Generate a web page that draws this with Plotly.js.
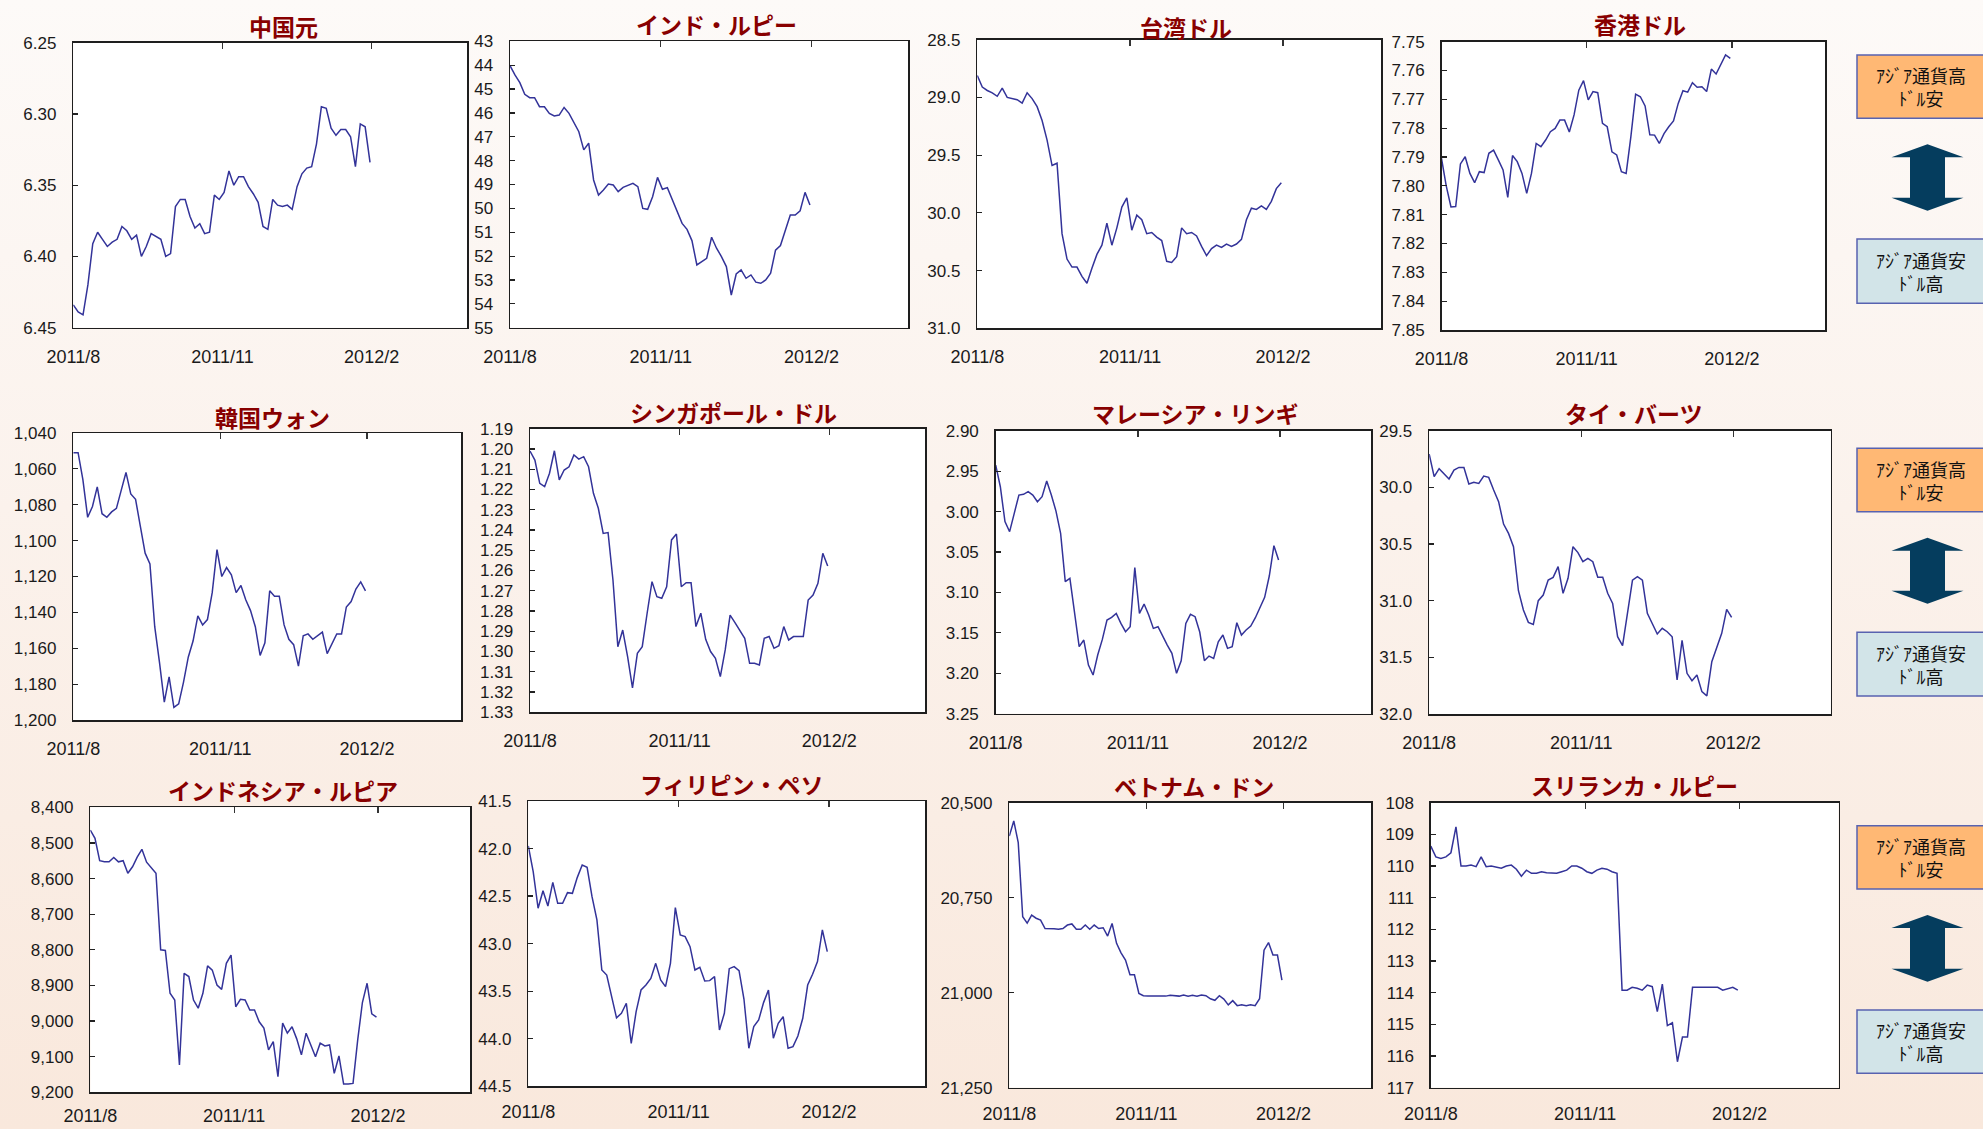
<!DOCTYPE html>
<html><head><meta charset="utf-8">
<script src="https://cdn.plot.ly/plotly-3.0.1.min.js"></script>
<style>
html,body{margin:0;padding:0;}
body{width:1983px;height:1129px;overflow:hidden;background:linear-gradient(180deg,#fdfaf8 0%,#fbf2ec 45%,#f9e8dc 100%);}
#chart{width:1983px;height:1129px;}
</style></head><body><div id="chart"></div>
<script>
// ---- data ----
const dates = ['2011-08-01','2011-08-04','2011-08-07','2011-08-10','2011-08-13','2011-08-16','2011-08-19','2011-08-22','2011-08-25','2011-08-28','2011-08-31',
'2011-09-03','2011-09-06','2011-09-09','2011-09-12','2011-09-15','2011-09-18','2011-09-21','2011-09-24','2011-09-27','2011-09-30',
'2011-10-03','2011-10-06','2011-10-09','2011-10-12','2011-10-15','2011-10-18','2011-10-21','2011-10-24','2011-10-27','2011-10-30',
'2011-11-02','2011-11-05','2011-11-08','2011-11-11','2011-11-14','2011-11-17','2011-11-20','2011-11-23','2011-11-26','2011-11-29',
'2011-12-02','2011-12-05','2011-12-08','2011-12-11','2011-12-14','2011-12-17','2011-12-20','2011-12-23','2011-12-26','2011-12-29',
'2012-01-01','2012-01-04','2012-01-07','2012-01-10','2012-01-13','2012-01-16','2012-01-19','2012-01-22','2012-01-25','2012-01-28','2012-01-31'];

const titles = ['中国元','インド・ルピー','台湾ドル','香港ドル','韓国ウォン','シンガポール・ドル','マレーシア・リンギ','タイ・バーツ','インドネシア・ルピア','フィリピン・ペソ','ベトナム・ドン','スリランカ・ルピー'];

const cny = [6.434,6.439,6.441,6.42,6.391,6.383,6.388,6.393,6.390,6.388,6.379,6.382,6.388,6.385,6.400,6.393,6.384,6.386,6.388,6.400,6.398,6.365,6.360,6.360,6.372,6.380,6.377,6.384,6.383,6.357,6.360,6.355,6.340,6.350,6.344,6.344,6.351,6.356,6.362,6.379,6.381,6.360,6.364,6.365,6.364,6.367,6.351,6.342,6.338,6.337,6.321,6.295,6.296,6.310,6.315,6.311,6.311,6.316,6.337,6.307,6.309,6.334];
const inr = [44.02,44.41,44.73,45.22,45.36,45.36,45.74,45.74,46.02,46.13,46.09,45.77,46.02,46.44,46.79,47.55,47.27,48.81,49.44,49.23,48.98,49.02,49.30,49.12,49.02,48.95,49.09,50.00,50.04,49.51,48.70,49.20,49.13,49.65,50.11,50.63,50.88,51.35,52.37,52.23,52.09,51.21,51.67,52.02,52.44,53.63,52.75,52.58,52.93,52.79,53.09,53.14,53.00,52.72,51.75,51.56,50.91,50.28,50.28,50.10,49.33,49.86];
const twd = [28.81,28.91,28.94,28.96,28.99,28.92,29.00,29.01,29.02,29.05,28.96,29.01,29.08,29.20,29.37,29.59,29.57,30.18,30.40,30.47,30.47,30.55,30.61,30.48,30.36,30.28,30.09,30.28,30.13,29.95,29.87,30.15,30.02,30.06,30.18,30.17,30.21,30.24,30.42,30.43,30.38,30.13,30.18,30.17,30.20,30.29,30.37,30.31,30.28,30.30,30.27,30.29,30.27,30.23,30.06,29.96,29.97,29.94,29.97,29.90,29.79,29.74];
const hkd = [7.7905,7.8000,7.8073,7.8072,7.7924,7.7899,7.7957,7.7989,7.7951,7.7954,7.7887,7.7876,7.7910,7.7945,7.8040,7.7895,7.7916,7.7957,7.8026,7.7957,7.7853,7.7864,7.7841,7.7812,7.7801,7.7772,7.7772,7.7813,7.7754,7.7668,7.7635,7.7702,7.7673,7.7677,7.7783,7.7795,7.7882,7.7893,7.7951,7.7957,7.7829,7.7682,7.7691,7.7723,7.7823,7.7824,7.7853,7.7819,7.7795,7.7775,7.7714,7.7670,7.7675,7.7642,7.7658,7.7656,7.7673,7.7595,7.7612,7.7581,7.7546,7.7558];
const krw = [1051,1051,1066,1087,1081,1070,1085,1087,1084,1082,1072,1062,1074,1077,1092,1107,1113,1148,1168,1190,1176,1193,1191,1179,1165,1156,1142,1147,1144,1129,1105,1120,1115,1119,1129,1125,1133,1139,1148,1164,1157,1128,1131,1131,1147,1155,1158,1170,1153,1152,1155,1153,1151,1163,1157,1152,1152,1137,1134,1127,1123,1128];
const sgd = [1.2010,1.2055,1.2170,1.2186,1.2120,1.2009,1.2153,1.2104,1.2088,1.2030,1.2050,1.2038,1.2088,1.2219,1.2293,1.2417,1.2413,1.2647,1.2976,1.2894,1.3025,1.3180,1.3009,1.2976,1.2811,1.2655,1.2729,1.2737,1.2680,1.2449,1.2420,1.2680,1.2660,1.2660,1.2877,1.2811,1.2940,1.3000,1.3033,1.3124,1.2992,1.2820,1.2857,1.2894,1.2935,1.3058,1.3058,1.3066,1.2935,1.2926,1.2984,1.2971,1.2877,1.2943,1.2926,1.2926,1.2926,1.2746,1.2721,1.2663,1.2515,1.2578];
const myr = [2.9425,2.9693,3.0125,3.0249,3.0022,2.9796,2.9787,2.9754,2.9796,2.9878,2.9816,2.9622,2.9796,2.9994,3.0270,3.0867,3.0826,3.1226,3.1671,3.1589,3.1898,3.2022,3.1774,3.1581,3.1342,3.1309,3.1259,3.1383,3.1486,3.1424,3.0694,3.1259,3.1144,3.1280,3.1445,3.1424,3.1548,3.1651,3.1754,3.2001,3.1845,3.1383,3.1271,3.1300,3.1490,3.1845,3.1787,3.1816,3.1610,3.1527,3.1692,3.1671,3.1375,3.1527,3.1465,3.1416,3.1313,3.1177,3.1061,3.0797,3.0422,3.0600];
const thb = [29.706,29.906,29.835,29.876,29.926,29.847,29.824,29.824,29.971,29.956,29.965,29.900,29.912,30.024,30.126,30.324,30.406,30.524,30.912,31.082,31.191,31.209,31.000,30.950,30.818,30.794,30.700,30.935,30.803,30.524,30.576,30.656,30.626,30.656,30.794,30.794,30.935,31.024,31.318,31.397,31.112,30.818,30.788,30.818,31.112,31.200,31.294,31.244,31.274,31.318,31.700,31.350,31.641,31.706,31.656,31.803,31.840,31.538,31.406,31.288,31.076,31.147];
const idr = [8464,8487,8550,8553,8553,8541,8553,8550,8585,8567,8540,8518,8554,8571,8585,8800,8802,8922,8941,9123,8866,8875,8941,8964,8922,8845,8857,8899,8911,8838,8815,8960,8939,8941,8969,8969,9002,9020,9081,9058,9156,9006,9034,9016,9050,9095,9034,9067,9100,9062,9070,9067,9147,9098,9177,9177,9175,9053,8948,8894,8980,8989];
const php = [41.973,42.243,42.628,42.443,42.604,42.355,42.576,42.576,42.464,42.471,42.303,42.173,42.197,42.506,42.751,43.277,43.330,43.540,43.780,43.733,43.627,44.050,43.715,43.487,43.435,43.365,43.207,43.382,43.452,43.207,42.621,42.909,42.926,43.032,43.277,43.249,43.393,43.389,43.347,43.908,43.732,43.263,43.242,43.284,43.582,44.100,43.873,43.803,43.620,43.487,43.995,43.838,43.768,44.100,44.083,43.971,43.785,43.435,43.322,43.189,42.856,43.084];
const vnd = [20588,20548,20605,20800,20817,20796,20804,20809,20831,20831,20832,20833,20831,20822,20819,20833,20833,20822,20833,20822,20831,20829,20851,20818,20870,20895,20914,20953,20953,21002,21008,21009,21009,21009,21009,21009,21007,21009,21009,21006,21009,21007,21009,21006,21008,21016,21020,21008,21017,21032,21021,21034,21032,21034,21032,21034,21016,20888,20868,20901,20901,20967];
const lkr = [109.37,109.71,109.76,109.71,109.58,108.76,110.00,110.00,109.97,110.02,109.71,110.02,110.00,110.04,110.07,110.00,109.97,110.10,110.32,110.13,110.23,110.23,110.18,110.21,110.23,110.23,110.18,110.13,110.00,110.00,110.07,110.18,110.23,110.13,110.07,110.10,110.18,110.23,113.92,113.92,113.83,113.86,113.92,113.76,113.81,114.60,113.73,115.04,114.95,116.18,115.40,115.40,113.83,113.83,113.83,113.83,113.83,113.83,113.92,113.87,113.83,113.92];

const series = [cny,inr,twd,hkd,krw,sgd,myr,thb,idr,php,vnd,lkr];

// axis scales / tick labels
const yTop    = [6.25, 43, 28.5, 7.75, 1040, 1.19, 2.90, 29.5, 8400, 41.5, 20500, 108];
const yBottom = [6.45, 55, 31.0, 7.85, 1200, 1.33, 3.25, 32.0, 9200, 44.5, 21250, 117];
const yStep   = [0.05, 1, 0.5, 0.01, 20, 0.01, 0.05, 0.5, 100, 0.5, 250, 1];
const yFormat = ['.2f','d','.1f','.2f',',d','.2f','.2f','.1f',',d','.1f',',d','d'];
const xTickVals = ['2011-08-01','2011-11-01','2012-02-01'];
const xTickText = ['2011/8','2011/11','2012/2'];
const xRange = ['2011-08-01','2012-03-31'];
const boxHighText = 'ｱｼﾞｱ通貨高<br>ﾄﾞﾙ安';
const boxLowText  = 'ｱｼﾞｱ通貨安<br>ﾄﾞﾙ高';

// ---- layout geometry (pixels) ----
const W = 1983, H = 1129;
const panels = [
 [73.3,467.3,42.7,327.7],[510,908.3,41.3,327.7],[977.3,1381,39.7,328.3],[1441.5,1825,41.7,330],
 [73.3,461.3,433,720],[530,925.3,428.7,712.3],[995.7,1371.3,430.7,713.7],[1429.2,1830.8,430.7,714],
 [90.3,470.3,807.3,1092.3],[528.3,925.3,801,1086.3],[1009.3,1371.3,802.7,1087.7],[1430.8,1838.5,802.7,1087.7]];
const labelStandoff = [12,12,12,12,12,12,12,12,7,9,9,9];
const titlePos = [[283,26],[716.7,24],[1185.7,27.5],[1640.2,24],[272,416.5],[733.3,411.7],[1195.5,412.5],[1634.4,413.3],[283.3,790],[732,784],[1193.7,786],[1634.2,785]];
const sideRows = [
 {o:[55,118.3], a:[144.3,210.7], b:[239,303.3]},
 {o:[448.3,511.7], a:[537.7,603.7], b:[632.3,696]},
 {o:[825.7,889], a:[915,981.7], b:[1010,1073.3]}];
const px = v => v / W, py = v => 1 - v / H;

const tickFont = {family:'Liberation Sans, Arial, sans-serif', size:17, color:'#1a1a1a'};
const xTickFont = {family:'Liberation Sans, Arial, sans-serif', size:18, color:'#1a1a1a'};

const traces = [];
const layout = {
  width: W, height: H, autosize:false,
  margin:{l:0,r:0,t:0,b:0,pad:0},
  paper_bgcolor:'rgba(0,0,0,0)', plot_bgcolor:'#ffffff',
  showlegend:false, hovermode:false,
  annotations:[], shapes:[]
};

series.forEach((vals, i) => {
  const n = i + 1;
  const xs = n === 1 ? 'x' : 'x' + n, ys = n === 1 ? 'y' : 'y' + n;
  const xk = n === 1 ? 'xaxis' : 'xaxis' + n, yk = n === 1 ? 'yaxis' : 'yaxis' + n;
  const topN = 12 + n, xsTop = 'x' + topN, xkTop = 'xaxis' + topN;
  const [L, R, T, B] = panels[i];

  traces.push({x: dates, y: vals, xaxis: xs, yaxis: ys, type:'scatter', mode:'lines',
    line:{color:'#333399', width:1.5}, hoverinfo:'skip'});
  traces.push({x: [], y: [], xaxis: xsTop, yaxis: ys, type:'scatter', mode:'lines', hoverinfo:'skip'});

  const tv = [];
  const steps = Math.round((yBottom[i] - yTop[i]) / yStep[i]);
  for (let k = 0; k <= steps; k++) tv.push(+(yTop[i] + k * yStep[i]).toFixed(6));

  layout[xk] = {domain:[px(L), px(R)], anchor: ys, type:'date', range: xRange,
    tickmode:'array', tickvals: xTickVals, ticktext: xTickText, ticks:'',
    showline:true, mirror:true, linecolor:'#1e1e1e', linewidth:1.5,
    showgrid:false, zeroline:false, tickfont: xTickFont, ticklabelstandoff: labelStandoff[i], fixedrange:true};
  layout[xkTop] = {domain:[px(L), px(R)], anchor: ys, overlaying: xs, side:'top', type:'date', range: xRange,
    tickmode:'array', tickvals: xTickVals, ticks:'inside', ticklen:6, tickwidth:1.3, tickcolor:'#333',
    showticklabels:false, showline:false, showgrid:false, zeroline:false, fixedrange:true};
  layout[yk] = {domain:[py(B), py(T)], anchor: xs, range:[yBottom[i], yTop[i]],
    tickmode:'array', tickvals: tv, tickformat: yFormat[i], ticks:'inside', ticklen:5, tickwidth:1.2, tickcolor:'#222',
    showline:true, mirror:true, linecolor:'#1e1e1e', linewidth:1.5,
    showgrid:false, zeroline:false, tickfont: tickFont, ticklabelstandoff: 12, fixedrange:true};

  layout.annotations.push({xref:'paper', yref:'paper', x: px(titlePos[i][0]), y: py(titlePos[i][1]),
    xanchor:'center', yanchor:'middle', showarrow:false, text:'<b>' + titles[i] + '</b>',
    font:{family:'Noto Sans CJK JP, sans-serif', size:23, color:'#880000'}});
});

// side legend boxes and arrows
const cx = 1927.5, textX = 1921;
sideRows.forEach(r => {
  layout.shapes.push({type:'rect', xref:'paper', yref:'paper', x0: px(1857), x1: px(1995), y0: py(r.o[1]), y1: py(r.o[0]),
    fillcolor:'#ffb874', line:{color:'#5862b0', width:1.5}, layer:'above'});
  layout.shapes.push({type:'rect', xref:'paper', yref:'paper', x0: px(1857), x1: px(1995), y0: py(r.b[1]), y1: py(r.b[0]),
    fillcolor:'#d2e4e8', line:{color:'#5862b0', width:1.5}, layer:'above'});
  const a0 = r.a[0], a1 = r.a[1], hw = 36, sw = 17.5, hh = 13;
  const pts = [[cx,a0],[cx-hw,a0+hh],[cx-sw,a0+hh],[cx-sw,a1-hh],[cx-hw,a1-hh],[cx,a1],
               [cx+hw,a1-hh],[cx+sw,a1-hh],[cx+sw,a0+hh],[cx+hw,a0+hh]];
  const path = 'M' + pts.map(p => px(p[0]).toFixed(5) + ',' + py(p[1]).toFixed(5)).join(' L') + ' Z';
  layout.shapes.push({type:'path', xref:'paper', yref:'paper', path: path, fillcolor:'#053d5e', line:{width:0}, layer:'above'});
  layout.annotations.push({xref:'paper', yref:'paper', x: px(textX), y: py((r.o[0]+r.o[1])/2), xanchor:'center', yanchor:'middle',
    showarrow:false, text: boxHighText, align:'center', font:{family:'Noto Sans CJK JP, sans-serif', size:18, color:'#111'}});
  layout.annotations.push({xref:'paper', yref:'paper', x: px(textX), y: py((r.b[0]+r.b[1])/2), xanchor:'center', yanchor:'middle',
    showarrow:false, text: boxLowText, align:'center', font:{family:'Noto Sans CJK JP, sans-serif', size:18, color:'#111'}});
});

Plotly.newPlot('chart', traces, layout, {displayModeBar:false, staticPlot:true});
</script></body></html>
